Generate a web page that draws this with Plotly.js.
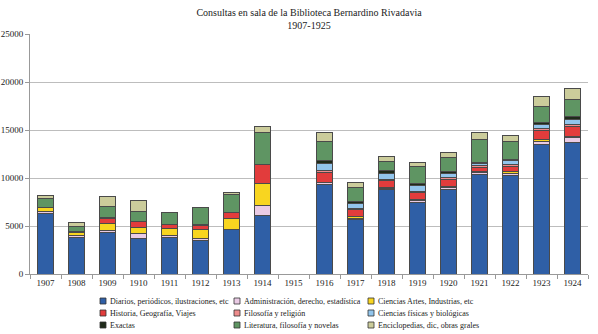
<!DOCTYPE html>
<html>
<head>
<meta charset="utf-8">
<script src="https://cdn.plot.ly/plotly-3.0.1.min.js"></script>
<style>html,body{margin:0;padding:0;background:#fff;}#chart{width:598px;height:334px;}</style>
</head>
<body>
<div id="chart"></div>
<script>
// ---- data ----
const years = ["1907","1908","1909","1910","1911","1912","1913","1914","1915","1916","1917","1918","1919","1920","1921","1922","1923","1924"];
const seriesNames = [
  "Diarios, periódicos, ilustraciones, etc",
  "Administración, derecho, estadística",
  "Ciencias Artes, Industrias, etc",
  "Historia, Geografía, Viajes",
  "Filosofía y religión",
  "Ciencias físicas y biológicas",
  "Exactas",
  "Literatura, filosofía y novelas",
  "Enciclopedias, dic, obras grales"
];
const diarios    = [6300,3820,4300,3700,3850,3440,4600,6100,0,9350,5700,8850,7460,8850,10400,10250,13520,13720];
const admin      = [250,200,180,500,150,280,80,1050,0,150,100,50,200,150,200,230,240,450];
const artes      = [350,320,800,620,700,880,1100,2300,0,30,230,130,150,80,60,180,250,170];
const historia   = [0,0,480,600,450,480,620,1950,0,1050,700,690,630,800,450,540,950,1040];
const filosofia  = [0,0,50,30,0,0,0,0,0,180,100,170,200,170,150,200,200,170];
const cfisicas   = [0,0,0,0,0,0,0,0,0,700,520,580,620,450,280,380,380,520];
const exactas    = [50,80,60,50,30,30,50,30,0,330,200,280,200,170,80,140,200,310];
const literatura = [900,520,1150,1050,1240,1840,1880,3300,0,2000,1500,970,1700,1450,2400,1850,1700,1840];
const enciclo    = [300,400,1100,1080,0,0,170,660,0,950,500,500,470,520,700,700,1100,1150];

const seriesValues = [diarios, admin, artes, historia, filosofia, cfisicas, exactas, literatura, enciclo];
const colors = ["#2F5FA6","#EACBE5","#F8D520","#E23C3C","#EE8C8C","#92C5EC","#1F2B1A","#5F9563","#CBCC9B"];

// ---- layout geometry ----
const W = 598, H = 334;
const M = {l: 30, r: 10, t: 34, b: 60};
const PW = W - M.l - M.r, PH = H - M.t - M.b;
const px = x => (x - M.l) / PW;
const py = y => (H - M.b - y) / PH;

const FONT = "Liberation Serif, Times New Roman, serif";

const traces = seriesNames.map((name, i) => ({
  type: "bar",
  name: name,
  x: years,
  y: seriesValues[i],
  marker: {color: colors[i], line: {color: "#4a4a4a", width: 1}},
  showlegend: false,
  hoverinfo: "x+y+name"
}));

// custom compact legend (3 columns x 3 rows)
const colX = [100, 234, 368];
const rowY = [301, 313, 325];
const shapes = [];
const annotations = [];
seriesNames.forEach((name, i) => {
  const c = i % 3, r = Math.floor(i / 3);
  const x0 = colX[c], yc = rowY[r];
  shapes.push({
    type: "rect", xref: "paper", yref: "paper",
    x0: px(x0), x1: px(x0 + 6), y0: py(yc + 3), y1: py(yc - 3),
    fillcolor: colors[i], line: {color: "#333", width: 0.8}
  });
  annotations.push({
    xref: "paper", yref: "paper", x: px(x0 + 8), y: py(yc),
    xanchor: "left", yanchor: "middle", showarrow: false,
    text: name, font: {family: FONT, size: 8, color: "#222"}
  });
});

const layout = {
  width: W, height: H,
  margin: M,
  paper_bgcolor: "#fff", plot_bgcolor: "#fff",
  barmode: "stack",
  bargap: 0.5,
  font: {family: FONT, size: 9, color: "#222"},
  title: {
    text: "Consultas en sala de la Biblioteca Bernardino Rivadavia<br>1907-1925",
    font: {family: FONT, size: 10, color: "#222"},
    x: 0.5, xanchor: "center", xref: "paper",
    y: 1 - 16 / H, yanchor: "top", yref: "container"
  },
  xaxis: {
    type: "category",
    tickfont: {family: FONT, size: 9, color: "#222"},
    ticks: "outside", tickson: "boundaries", ticklen: 4, tickcolor: "#999",
    showline: true, linecolor: "#999", linewidth: 1,
    showgrid: false, fixedrange: true
  },
  yaxis: {
    range: [0, 25000], dtick: 5000, tickformat: "d",
    tickfont: {family: FONT, size: 9, color: "#222"},
    ticks: "outside", ticklen: 4, tickcolor: "#999",
    showline: true, linecolor: "#999", linewidth: 1,
    gridcolor: "#bdbdbd", gridwidth: 1,
    zeroline: false, fixedrange: true
  },
  shapes: shapes,
  annotations: annotations
};

Plotly.newPlot("chart", traces, layout, {displayModeBar: false, staticPlot: true});
</script>
</body>
</html>
